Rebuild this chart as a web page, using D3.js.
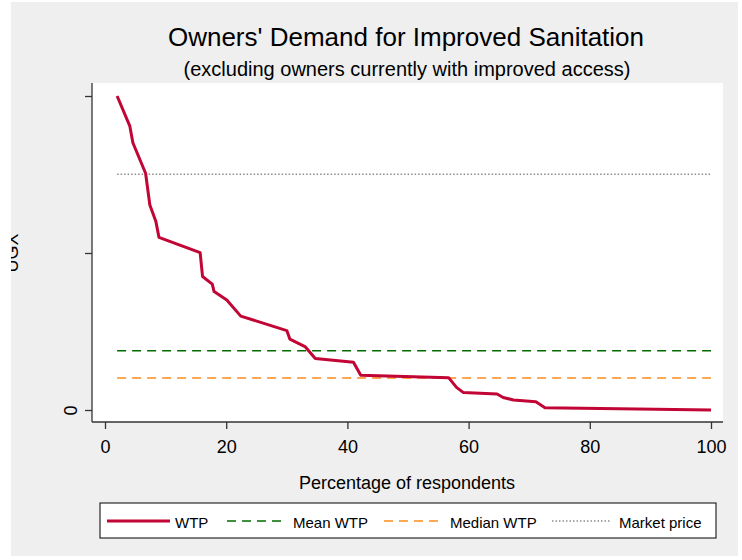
<!DOCTYPE html>
<html>
<head>
<meta charset="utf-8">
<script src="https://cdn.jsdelivr.net/npm/d3@7"></script>
<style>
  body { margin: 0; background: #fff; }
  text { font-family: "Liberation Sans", Arial, sans-serif; fill: #000; }
</style>
</head>
<body>
<div id="chart"></div>
<script>

// WTP curve (percentage of respondents, UGX in thousands)
var wtpPct = [2.0, 4.1, 4.6, 6.7, 7.4, 8.4, 8.9, 15.7, 16.1, 17.7, 18.0, 20.1, 22.4, 30.0, 30.5,
              33.0, 34.7, 41.0, 42.2, 56.7, 58.0, 59.1, 64.7, 65.7, 67.4, 71.1, 72.6, 100];
var wtpValue = [100, 90.4, 85.1, 75.4, 65.3, 60, 55, 50.1, 42.5, 40.1, 37.7, 35, 29.9, 25.3, 22.6,
                20.2, 16.4, 15.2, 11.1, 10.3, 7.2, 5.6, 5.1, 4.0, 3.2, 2.6, 0.7, 0];

var meanWTP = 18.9;
var medianWTP = 10.2;
var marketPrice = 75.1;
var refRange = [2, 100];

var xTicks = [0, 20, 40, 60, 80, 100];
var yTicks = [0, 50, 100];
var yTickLabels = ["0", "", ""];

var legendLabels = ["WTP", "Mean WTP", "Median WTP", "Market price"];

var width = 742, height = 560;

var svg = d3.select("#chart").append("svg")
    .attr("width", width)
    .attr("height", height);

// Stata-like grey graph region and white plot region
svg.append("rect")
    .attr("x", 11).attr("y", 2)
    .attr("width", 727).attr("height", 554)
    .attr("fill", "#efefef");

svg.append("rect")
    .attr("x", 92).attr("y", 83)
    .attr("width", 631).attr("height", 339)
    .attr("fill", "#fff");

// Scales
var x = d3.scaleLinear().domain([0, 100]).range([105, 711]);
var y = d3.scaleLinear().domain([0, 100]).range([410, 96]);

// Axes
var xAxis = d3.axisBottom(x).tickValues(xTicks).tickSize(7).tickPadding(11).tickSizeOuter(0);
var yAxis = d3.axisLeft(y).tickValues(yTicks).tickSize(7).tickPadding(6).tickSizeOuter(0)
    .tickFormat(function(d, i) { return yTickLabels[i]; });

var gx = svg.append("g")
    .attr("transform", "translate(0,422)")
    .call(xAxis);
gx.select(".domain").attr("d", "M92,0H723");

var gy = svg.append("g")
    .attr("transform", "translate(92,0)")
    .call(yAxis);
gy.select(".domain").attr("d", "M0,83V422");

svg.selectAll(".domain, .tick line").attr("stroke", "#333").attr("stroke-width", 1.3);
svg.selectAll(".tick text")
    .style("font-family", "'Liberation Sans', Arial, sans-serif")
    .style("font-size", "18px")
    .attr("fill", "#000");

// Rotated y tick labels, as Stata draws them
gy.selectAll(".tick text")
    .attr("x", null)
    .attr("text-anchor", "middle")
    .attr("transform", "translate(-21,0) rotate(-90)")
    .attr("dy", "0.36em");

// Titles
svg.append("text")
    .attr("x", 406).attr("y", 46)
    .attr("text-anchor", "middle")
    .style("font-size", "26px")
    .text("Owners' Demand for Improved Sanitation");

svg.append("text")
    .attr("x", 407).attr("y", 76)
    .attr("text-anchor", "middle")
    .style("font-size", "20px")
    .text("(excluding owners currently with improved access)");

svg.append("text")
    .attr("x", 407).attr("y", 489)
    .attr("text-anchor", "middle")
    .style("font-size", "18px")
    .text("Percentage of respondents");

// y title sits partly outside the graph region, so it gets cut at its edge
svg.append("defs").append("clipPath")
    .attr("id", "leftclip")
    .append("rect")
    .attr("x", 11).attr("y", 0).attr("width", 100).attr("height", height);

svg.append("g")
    .attr("clip-path", "url(#leftclip)")
    .append("text")
    .attr("transform", "translate(18,253) rotate(-90)")
    .attr("text-anchor", "middle")
    .style("font-size", "18px")
    .text("UGX");

// Reference lines
var refs = [
    { value: meanWTP, color: "#006b00", dash: "9,6", width: 1.5 },
    { value: medianWTP, color: "#ff8c1a", dash: "9,6", width: 1.5 },
    { value: marketPrice, color: "#8c8c8c", dash: "1.5,2", width: 1.5 }
];

svg.selectAll(".ref")
    .data(refs)
    .enter().append("line")
    .attr("class", "ref")
    .attr("x1", x(refRange[0]))
    .attr("x2", x(refRange[1]))
    .attr("y1", function(d) { return y(d.value); })
    .attr("y2", function(d) { return y(d.value); })
    .attr("stroke", function(d) { return d.color; })
    .attr("stroke-width", function(d) { return d.width; })
    .attr("stroke-dasharray", function(d) { return d.dash; });

// WTP curve
var wtpData = wtpPct.map(function(p, i) { return { pct: p, value: wtpValue[i] }; });

var line = d3.line()
    .x(function(d) { return x(d.pct); })
    .y(function(d) { return y(d.value); });

svg.append("path")
    .datum(wtpData)
    .attr("d", line)
    .attr("fill", "none")
    .attr("stroke", "#c10534")
    .attr("stroke-width", 3)
    .attr("stroke-linejoin", "round");

// Legend
var legend = svg.append("g");

legend.append("rect")
    .attr("x", 100).attr("y", 503)
    .attr("width", 616).attr("height", 35)
    .attr("fill", "#fff")
    .attr("stroke", "#000")
    .attr("stroke-width", 1);

var legendItems = [
    { x0: 107, x1: 170, tx: 175, color: "#c10534", dash: null, width: 3 },
    { x0: 227, x1: 286, tx: 293, color: "#006b00", dash: "9,6", width: 1.5 },
    { x0: 384, x1: 442, tx: 450, color: "#ff8c1a", dash: "9,6", width: 1.5 },
    { x0: 552, x1: 611, tx: 619, color: "#8c8c8c", dash: "1.5,2", width: 1.5 }
];

legendItems.forEach(function(d, i) {
    legend.append("line")
        .attr("x1", d.x0).attr("x2", d.x1)
        .attr("y1", 521).attr("y2", 521)
        .attr("stroke", d.color)
        .attr("stroke-width", d.width)
        .attr("stroke-dasharray", d.dash);
    legend.append("text")
        .attr("x", d.tx).attr("y", 528)
        .style("font-size", "15px")
        .text(legendLabels[i]);
});

</script>
</body>
</html>
